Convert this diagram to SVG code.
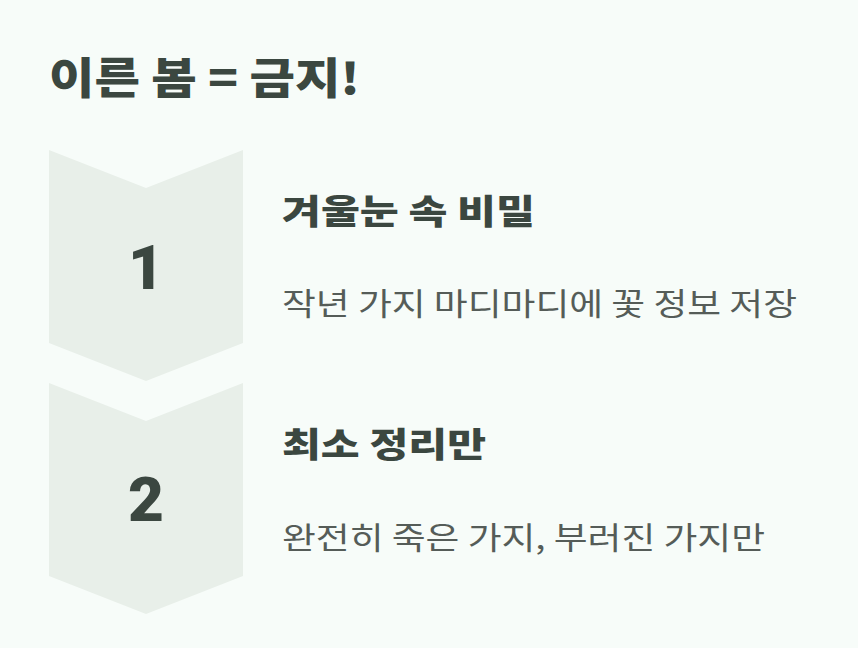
<svg xmlns="http://www.w3.org/2000/svg" width="858" height="648" viewBox="0 0 858 648">
<style>
.t{font-family:"Noto Sans CJK KR","Noto Sans",sans-serif;fill:#3b4740}
.h{font-weight:900;font-size:34px}
.b{font-size:31px;fill:#555c58}
.n{font-family:"Roboto","Noto Sans",sans-serif;font-weight:900;font-size:62px;fill:#3b4740;text-anchor:middle}
.c{fill:#e8efe9}
</style>
<rect width="858" height="648" fill="#f7fcf9"/>
<text class="t" x="49" y="94" font-size="43" font-weight="900" textLength="311" lengthAdjust="spacingAndGlyphs">이른 봄 = 금지!</text>
<g id="step1">
<path class="c" d="M49,150 L146,188 L243,150 L243,343 L146,381 L49,343 Z"/>
<text class="n" x="146" y="289">1</text>
<text class="t h" x="282" y="224" textLength="253" lengthAdjust="spacingAndGlyphs">겨울눈 속 비밀</text>
<text class="t b" x="282" y="315" textLength="515" lengthAdjust="spacingAndGlyphs">작년 가지 마디마디에 꽃 정보 저장</text>
</g>
<g id="step2">
<path class="c" d="M49,383 L146,421 L243,383 L243,576 L146,614 L49,576 Z"/>
<text class="n" x="146" y="521">2</text>
<text class="t h" x="282" y="457" textLength="204" lengthAdjust="spacingAndGlyphs">최소 정리만</text>
<text class="t b" x="282" y="549" textLength="483" lengthAdjust="spacingAndGlyphs">완전히 죽은 가지, 부러진 가지만</text>
</g>
<g id="connectors"/>
</svg>
